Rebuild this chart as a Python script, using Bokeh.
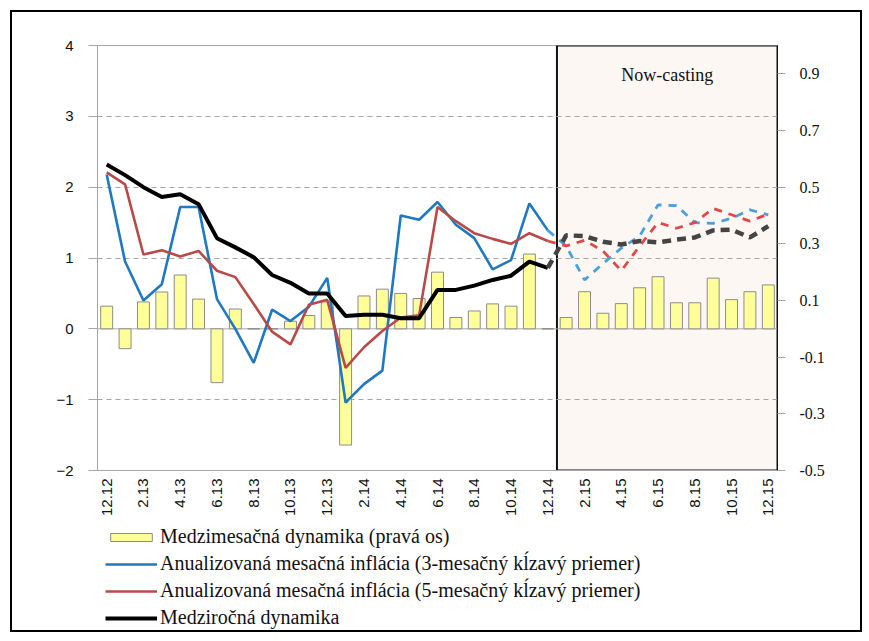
import math
from bokeh.plotting import figure
from bokeh.layouts import column
from bokeh.models import (Range1d, LinearAxis, FixedTicker, Span, Legend, LegendItem,
                          Label, CustomJSTickFormatter)
from bokeh.embed import file_html
from bokeh.resources import INLINE

# ---------------- data ----------------
months = ["12.12", "1.13", "2.13", "3.13", "4.13", "5.13", "6.13", "7.13", "8.13", "9.13",
          "10.13", "11.13", "12.13", "1.14", "2.14", "3.14", "4.14", "5.14", "6.14", "7.14",
          "8.14", "9.14", "10.14", "11.14", "12.14", "1.15", "2.15", "3.15", "4.15", "5.15",
          "6.15", "7.15", "8.15", "9.15", "10.15", "11.15", "12.15"]

# month-on-month change (right axis)
mom = [0.08, -0.07, 0.095, 0.13, 0.19, 0.105, -0.19, 0.07, 0.0, 0.0,
       0.027, 0.047, 0.095, -0.41, 0.116, 0.14, 0.125, 0.107, 0.20, 0.04,
       0.063, 0.088, 0.08, 0.264, 0.0, 0.04, 0.131, 0.055, 0.089, 0.145,
       0.184, 0.092, 0.092, 0.179, 0.103, 0.131, 0.155]

# annualised monthly inflation, 3-month moving average
ann_3m = [2.18, 0.95, 0.40, 0.63, 1.72, 1.72, 0.42, 0.0, -0.48, 0.27,
          0.11, 0.31, 0.72, -1.04, -0.78, -0.59, 1.60, 1.54, 1.79, 1.47,
          1.28, 0.84, 0.97, 1.77, 1.39, 1.17, 0.69, 0.92, 1.14, 1.31,
          1.75, 1.74, 1.50, 1.49, 1.56, 1.68, 1.61]

# annualised monthly inflation, 5-month moving average
ann_5m = [2.21, 2.04, 1.05, 1.11, 1.02, 1.10, 0.82, 0.73, 0.35, -0.04,
          -0.22, 0.34, 0.41, -0.55, -0.26, -0.03, 0.16, 0.19, 1.72, 1.52,
          1.35, 1.27, 1.20, 1.35, 1.24, 1.17, 1.25, 1.10, 0.82, 1.17,
          1.50, 1.42, 1.50, 1.70, 1.61, 1.52, 1.62]

# year-on-year change
yoy = [2.32, 2.17, 2.00, 1.86, 1.90, 1.76, 1.28, 1.15, 1.01, 0.76,
       0.65, 0.50, 0.50, 0.18, 0.20, 0.20, 0.15, 0.15, 0.55, 0.55,
       0.61, 0.69, 0.75, 0.95, 0.86, 1.32, 1.31, 1.23, 1.19, 1.24,
       1.22, 1.26, 1.29, 1.39, 1.40, 1.29, 1.45]

left_ticks = [-2, -1, 0, 1, 2, 3, 4]
right_ticks = [-0.5, -0.3, -0.1, 0.1, 0.3, 0.5, 0.7, 0.9]
last_actual = 24  # index of 12.14; now-casting follows

labels = ["Medzimesačná dynamika (pravá os)",
          "Anualizovaná mesačná inflácia (3-mesačný kĺzavý priemer)",
          "Anualizovaná mesačná inflácia (5-mesačný kĺzavý priemer)",
          "Medziročná dynamika"]

# styles
BAR_FILL, BAR_LINE = "#ffff99", "#8c8c8c"
C3, C5, CY = "#1f78c1", "#b94a48", "#000000"
C3F, C5F, CYF = "#4a9fdc", "#e04848", "#444444"
SERIF = "Liberation Serif"

# ---------------- main figure ----------------
n = len(months)
x = list(range(n))
xa, xf = x[:last_actual + 1], x[last_actual:]

p = figure(width=848, height=513, output_backend="svg", toolbar_location=None,
           x_range=Range1d(-0.5, n - 0.5), y_range=Range1d(left_ticks[0], left_ticks[-1]),
           min_border_left=85, min_border_right=83, min_border_top=33, min_border_bottom=55)
p.background_fill_color = "white"
p.border_fill_color = "white"
p.outline_line_color = "#a6a6a6"

p.extra_y_ranges = {"right": Range1d(-0.5, 1.0)}

# now-casting box
box = p.quad(left=[last_actual + 0.5], right=[n - 0.5], bottom=[left_ticks[0]], top=[left_ticks[-1]],
             fill_color="#fdf7f3", line_color="#111111", line_width=2)
box.level = "image"

# grid
p.xgrid.visible = False
p.ygrid.ticker = FixedTicker(ticks=[t for t in left_ticks[1:-1] if t != 0])
p.ygrid.grid_line_color = "#a6a6a6"
p.ygrid.grid_line_dash = "5 4"
p.ygrid.grid_line_width = 1

zero = Span(location=0, dimension="width", line_color="#a6a6a6", line_width=1)
zero.level = "underlay"
p.add_layout(zero)

# bars
p.vbar(x=x, top=mom, bottom=0, width=0.65, y_range_name="right",
       fill_color=BAR_FILL, line_color=BAR_LINE, line_width=1)

# lines
p.line(xa, ann_3m[:last_actual + 1], line_color=C3, line_width=2.6)
p.line(xa, ann_5m[:last_actual + 1], line_color=C5, line_width=2.6)
p.line(xa, yoy[:last_actual + 1], line_color=CY, line_width=4)
p.line(xf, ann_3m[last_actual:], line_color=C3F, line_width=2.8, line_dash="8 7")
p.line(xf, ann_5m[last_actual:], line_color=C5F, line_width=2.8, line_dash="8 7")
p.line(xf, yoy[last_actual:], line_color=CYF, line_width=4.5, line_dash="9 6")

# axes
xax = p.xaxis[0]
xax.ticker = FixedTicker(ticks=x[::2])
xax.major_label_overrides = {i: months[i] for i in x[::2]}
xax.major_label_orientation = math.pi / 2
xax.major_label_text_font = "Liberation Sans"
xax.major_label_text_font_size = "15px"
xax.major_label_text_color = "#111111"
xax.axis_line_color = "#a6a6a6"
xax.major_tick_line_color = None
xax.major_tick_out = 0
xax.major_tick_in = 0
xax.minor_tick_line_color = None
xax.major_label_standoff = 8

yax = p.yaxis[0]
yax.ticker = FixedTicker(ticks=left_ticks)
yax.major_label_text_font = "Liberation Sans"
yax.major_label_text_font_size = "15px"
yax.major_label_text_color = "#111111"
yax.axis_line_color = "#a6a6a6"
yax.major_tick_line_color = "#a6a6a6"
yax.major_tick_out = 9
yax.major_tick_in = 0
yax.minor_tick_line_color = None
yax.major_label_standoff = 15

rax = LinearAxis(y_range_name="right", ticker=FixedTicker(ticks=right_ticks),
                 formatter=CustomJSTickFormatter(code="return tick.toFixed(1);"))
rax.major_label_text_font = SERIF
rax.major_label_text_font_size = "16px"
rax.major_label_text_color = "#111111"
rax.axis_line_color = "#111111"
rax.major_tick_line_color = "#a6a6a6"
rax.major_tick_out = 8
rax.major_tick_in = 0
rax.minor_tick_line_color = None
rax.major_label_standoff = 14
p.add_layout(rax, "right")

# now-casting label
p.add_layout(Label(x=(last_actual + 0.5 + n - 0.5) / 2, y=left_ticks[-1], y_offset=-29,
                   text="Now-casting", text_align="center", text_baseline="middle",
                   text_font=SERIF, text_font_size="18px", text_color="#111111"))

# ---------------- legend figure ----------------
# the same series are drawn here outside the visible range, only to supply legend glyphs
lg = figure(width=848, height=105, output_backend="svg", toolbar_location=None,
            x_range=Range1d(-0.5, n - 0.5), y_range=Range1d(10, 11),
            x_axis_type=None, y_axis_type=None,
            min_border_left=0, min_border_right=0, min_border_top=0, min_border_bottom=0)
lg.grid.visible = False
lg.outline_line_color = None
lg.background_fill_color = "white"
lg.border_fill_color = "white"

lb = lg.vbar(x=x, top=mom, bottom=0, width=0.65, fill_color=BAR_FILL, line_color=BAR_LINE)
l3 = lg.line(x, ann_3m, line_color=C3, line_width=2.6)
l5 = lg.line(x, ann_5m, line_color=C5, line_width=2.6)
ly = lg.line(x, yoy, line_color=CY, line_width=4)

legend = Legend(items=[LegendItem(label=labels[0], renderers=[lb]),
                       LegendItem(label=labels[1], renderers=[l3]),
                       LegendItem(label=labels[2], renderers=[l5]),
                       LegendItem(label=labels[3], renderers=[ly])],
                location=(8, 1), orientation="vertical",
                border_line_color=None, background_fill_alpha=0,
                padding=0, margin=0, spacing=4,
                glyph_width=52, glyph_height=10, label_height=20, label_standoff=3,
                label_text_font=SERIF, label_text_font_size="20px",
                label_text_color="#111111")
lg.add_layout(legend)

layout = column(p, lg, spacing=0)
layout.styles = {"border": "2px solid #000000", "margin-left": "10px", "margin-top": "10px"}

open("out.html", "w").write(file_html(layout, INLINE))
